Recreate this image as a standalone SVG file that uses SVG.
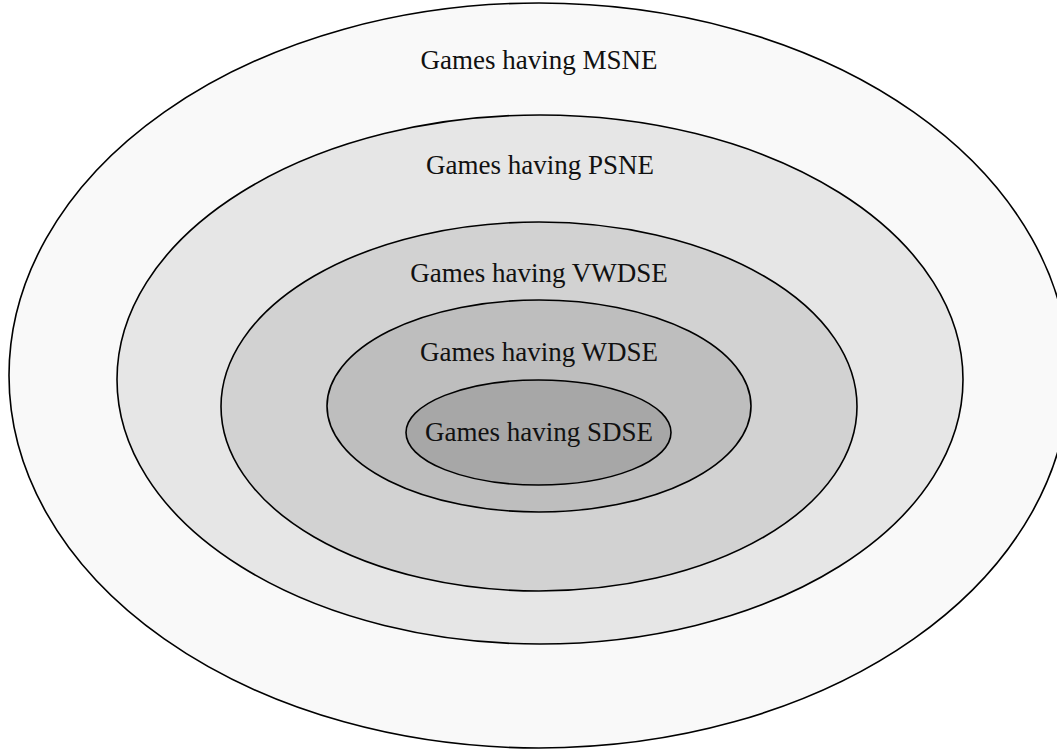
<svg xmlns="http://www.w3.org/2000/svg" width="1057" height="749" viewBox="0 0 1057 749">
<style>
.set{stroke:#000;stroke-width:1.6}
.lbl{font-family:"Liberation Serif","DejaVu Serif",serif;font-size:27px;fill:#111;text-anchor:middle}
</style>
<rect width="1057" height="749" fill="#fff"/>
<g id="msne"><ellipse class="set" cx="539" cy="375.5" rx="530" ry="372.5" fill="#f9f9f9"/><text class="lbl" x="539" y="69">Games having MSNE</text></g>
<g id="psne"><ellipse class="set" cx="540" cy="379.5" rx="423" ry="264.5" fill="#e6e6e6"/><text class="lbl" x="540" y="174">Games having PSNE</text></g>
<g id="vwdse"><ellipse class="set" cx="539" cy="406.5" rx="318" ry="184.5" fill="#d2d2d2"/><text class="lbl" x="539" y="282">Games having VWDSE</text></g>
<g id="wdse"><ellipse class="set" cx="539" cy="406" rx="212" ry="106" fill="#bebebe"/><text class="lbl" x="539" y="361">Games having WDSE</text></g>
<g id="sdse"><ellipse class="set" cx="538.5" cy="432.5" rx="132.5" ry="52.5" fill="#a7a7a7"/><text class="lbl" x="539" y="441">Games having SDSE</text></g>
<g id="connectors"/>
</svg>
